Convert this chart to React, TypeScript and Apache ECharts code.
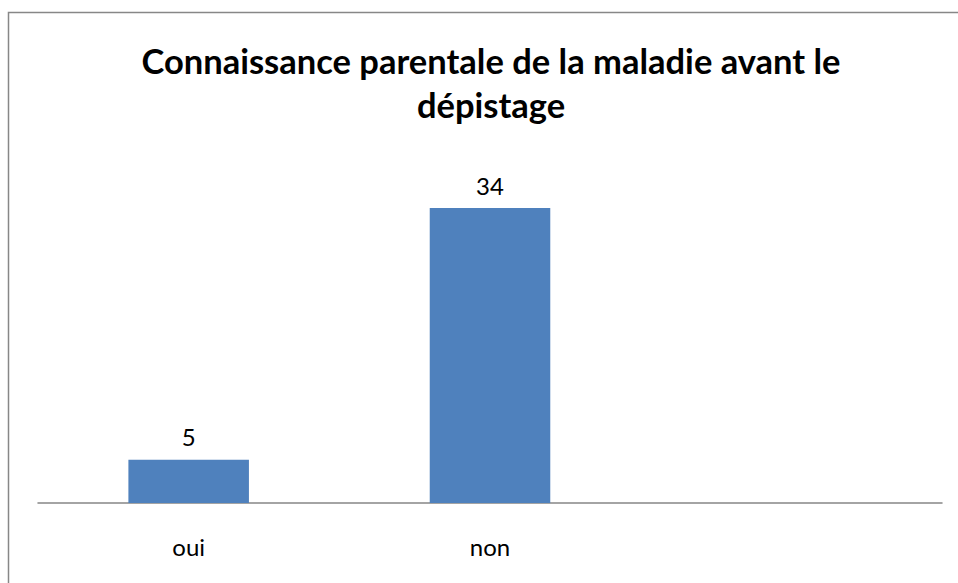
import React, { useEffect, useRef } from "react";
import * as echarts from "echarts";

const titleText = "Connaissance parentale de la maladie avant le\ndépistage";
const categories = ["oui", "non", ""];
const values: (number | null)[] = [5, 34, null];

export default function App() {
  const ref = useRef<HTMLDivElement>(null);
  useEffect(() => {
    if (!ref.current) return;
    const chart = echarts.init(ref.current, null, { renderer: "svg" });
    chart.setOption({
      animation: false,
      backgroundColor: "#ffffff",
      title: {
        text: titleText,
        left: 486,
        top: 33,
        textAlign: "center",
        textStyle: {
          fontFamily: "Lato",
          fontWeight: "bold",
          fontSize: 34.5,
          lineHeight: 44,
          color: "#000000",
        },
      },
      graphic: [
        {
          type: "rect",
          shape: { x: 8.5, y: 12.5, width: 1200, height: 1200 },
          style: { fill: "none", stroke: "#878787", lineWidth: 1.5 },
          silent: true,
        },
      ],
      grid: { left: 38, right: 16, top: 156, bottom: 80 },
      xAxis: {
        type: "category",
        data: categories,
        axisLine: { lineStyle: { color: "#868686", width: 1.5 } },
        axisTick: { show: false },
        axisLabel: {
          color: "#000000",
          fontFamily: "Lato",
          fontSize: 24,
          margin: 31,
        },
      },
      yAxis: {
        type: "value",
        min: 0,
        max: 40,
        show: false,
        splitLine: { show: false },
      },
      series: [
        {
          type: "bar",
          data: values,
          barWidth: "40%",
          itemStyle: { color: "#4F81BD" },
          label: {
            show: true,
            position: "top",
            distance: 11,
            color: "#000000",
            fontFamily: "Lato",
            fontSize: 24,
          },
        },
      ],
    });
    return () => chart.dispose();
  }, []);
  return (
    <div
      ref={ref}
      style={{ position: "fixed", left: 0, top: 0, width: 958, height: 583 }}
    />
  );
}
